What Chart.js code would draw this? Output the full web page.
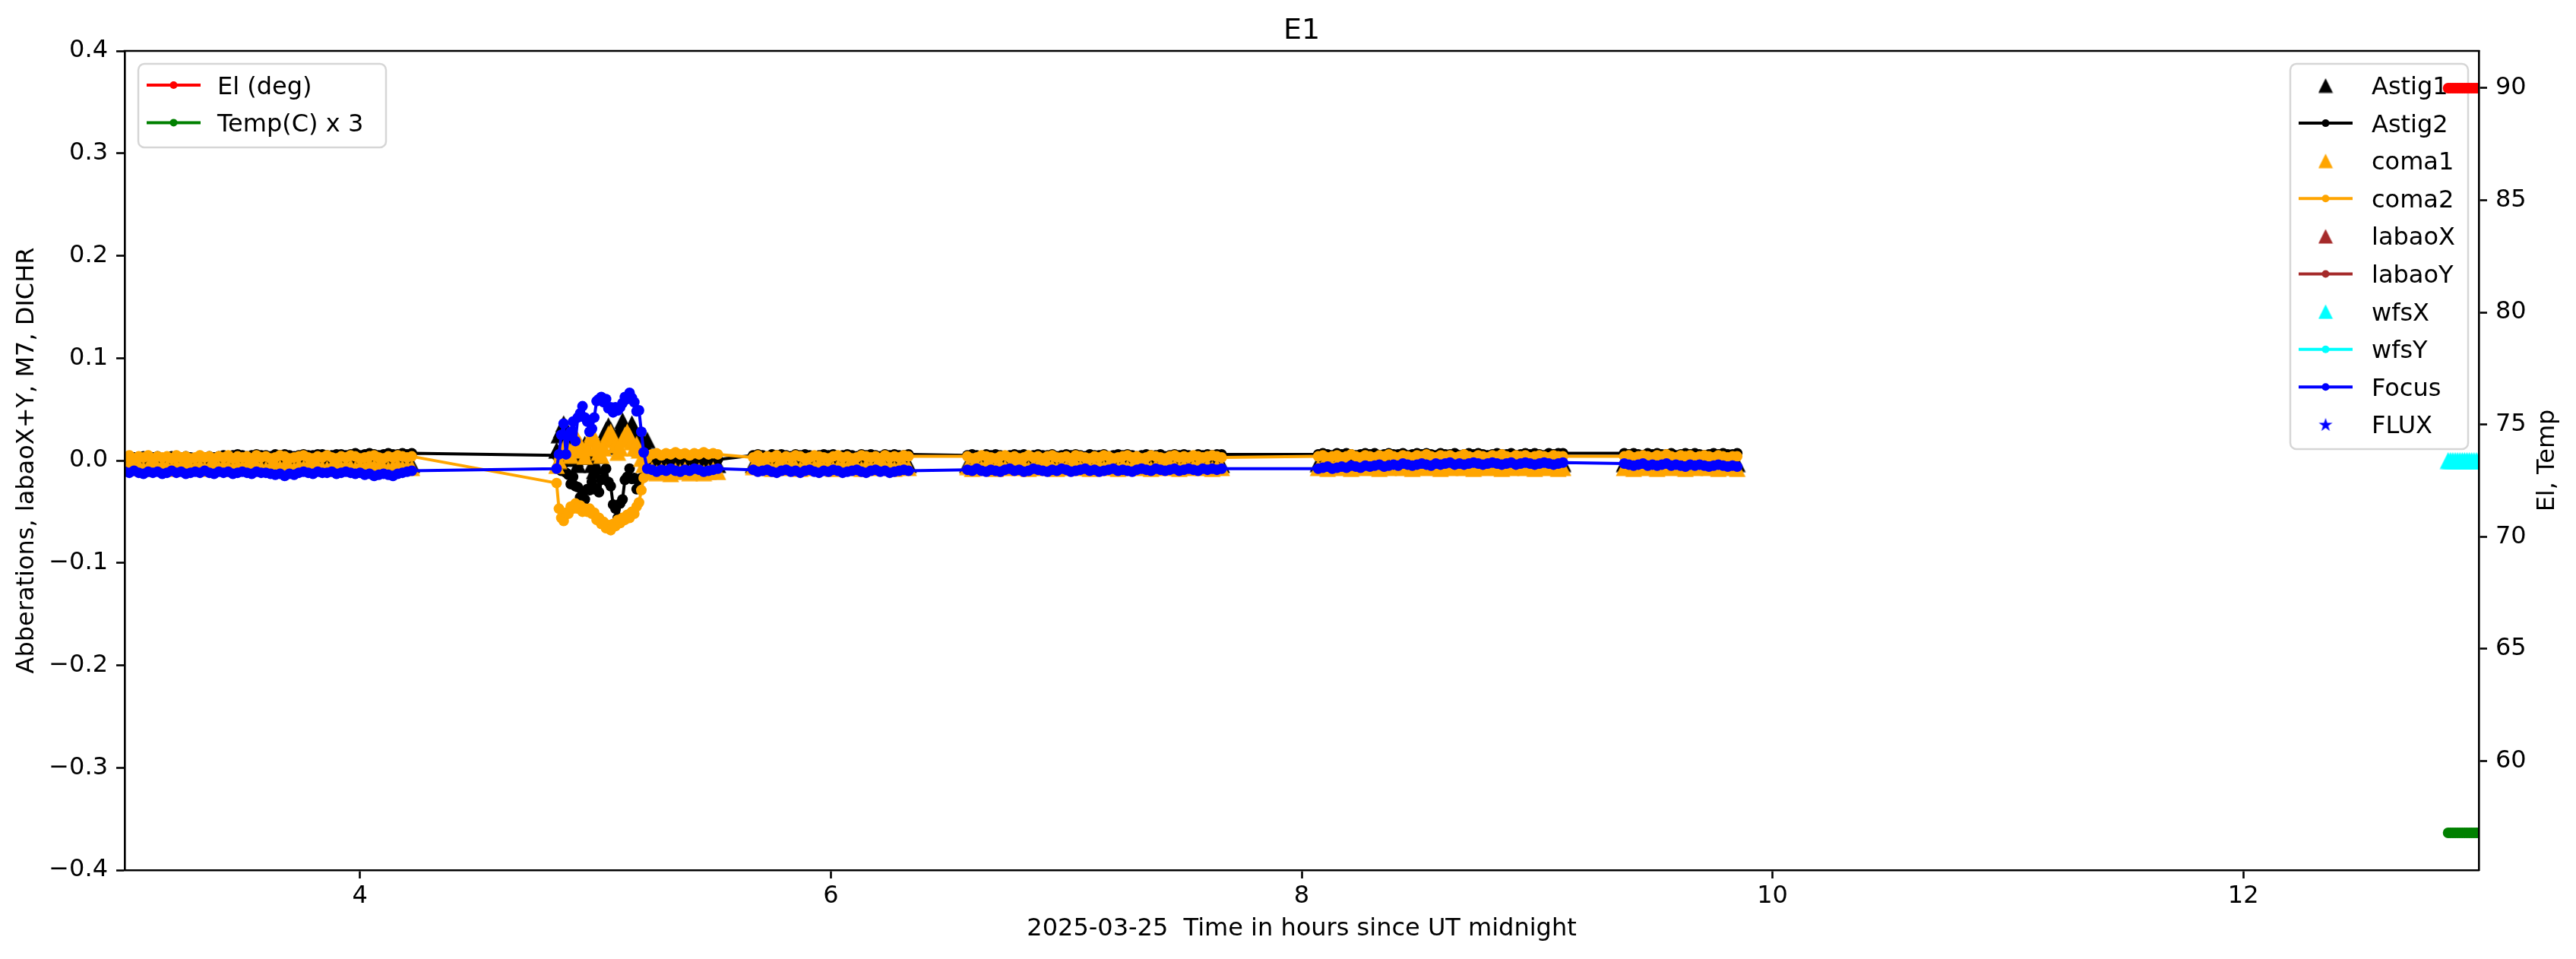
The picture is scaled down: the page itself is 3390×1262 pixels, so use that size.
<!DOCTYPE html>
<html>
<head>
<meta charset="utf-8">
<title>E1</title>
<script src="https://cdn.jsdelivr.net/npm/chart.js@4.4.1/dist/chart.umd.min.js"></script>
<style>
  html, body { margin: 0; padding: 0; background: #fff; }
  canvas { display: block; }
</style>
</head>
<body>
<canvas id="e1Chart" width="3390" height="1262"></canvas>
<script>
// time in hours since UT midnight, one entry per wavefront sample
const hours = [
  // 3.00 - 4.22
  3.00,3.02,3.04,3.06,3.08,3.10,3.12,3.14,3.16,3.18,
  3.20,3.22,3.24,3.26,3.28,3.30,3.32,3.34,3.36,3.38,
  3.40,3.42,3.44,3.46,3.48,3.50,3.52,3.54,3.56,3.58,
  3.60,3.62,3.64,3.66,3.68,3.70,3.72,3.74,3.76,3.78,
  3.80,3.82,3.84,3.86,3.88,3.90,3.92,3.94,3.96,3.98,
  4.00,4.02,4.04,4.06,4.08,4.10,4.12,4.14,4.16,4.18,
  4.20,4.22,
  // 4.835 - 5.205 (the excursion)
  4.835,4.845,4.855,4.865,4.875,4.885,4.895,4.905,4.915,4.925,
  4.935,4.945,4.955,4.965,4.975,4.985,4.995,5.005,5.015,5.025,
  5.035,5.045,5.055,5.065,5.075,5.085,5.095,5.105,5.115,5.125,
  5.135,5.145,5.155,5.165,5.175,5.185,5.195,5.205,
  // 5.22 - 5.52
  5.22,5.24,5.26,5.28,5.30,5.32,5.34,5.36,5.38,5.40,
  5.42,5.44,5.46,5.48,5.50,5.52,
  // 5.67 - 6.33
  5.67,5.69,5.71,5.73,5.75,5.77,5.79,5.81,5.83,5.85,
  5.87,5.89,5.91,5.93,5.95,5.97,5.99,6.01,6.03,6.05,
  6.07,6.09,6.11,6.13,6.15,6.17,6.19,6.21,6.23,6.25,
  6.27,6.29,6.31,6.33,
  // 6.58 - 7.66
  6.58,6.60,6.62,6.64,6.66,6.68,6.70,6.72,6.74,6.76,
  6.78,6.80,6.82,6.84,6.86,6.88,6.90,6.92,6.94,6.96,
  6.98,7.00,7.02,7.04,7.06,7.08,7.10,7.12,7.14,7.16,
  7.18,7.20,7.22,7.24,7.26,7.28,7.30,7.32,7.34,7.36,
  7.38,7.40,7.42,7.44,7.46,7.48,7.50,7.52,7.54,7.56,
  7.58,7.60,7.62,7.64,7.66,
  // 8.07 - 9.11
  8.07,8.09,8.11,8.13,8.15,8.17,8.19,8.21,8.23,8.25,
  8.27,8.29,8.31,8.33,8.35,8.37,8.39,8.41,8.43,8.45,
  8.47,8.49,8.51,8.53,8.55,8.57,8.59,8.61,8.63,8.65,
  8.67,8.69,8.71,8.73,8.75,8.77,8.79,8.81,8.83,8.85,
  8.87,8.89,8.91,8.93,8.95,8.97,8.99,9.01,9.03,9.05,
  9.07,9.09,9.11,
  // 9.37 - 9.85
  9.37,9.39,9.41,9.43,9.45,9.47,9.49,9.51,9.53,9.55,
  9.57,9.59,9.61,9.63,9.65,9.67,9.69,9.71,9.73,9.75,
  9.77,9.79,9.81,9.83,9.85
];

const astig1 = [
  -0.004,-0.003,-0.005,-0.004,-0.003,-0.004,-0.005,-0.004,-0.003,-0.004,
  -0.005,-0.004,-0.003,-0.005,-0.004,-0.003,-0.004,-0.005,-0.004,-0.003,
  -0.004,-0.005,-0.004,-0.003,-0.004,-0.005,-0.003,-0.004,-0.004,-0.005,
  -0.003,-0.004,-0.005,-0.004,-0.003,-0.004,-0.005,-0.004,-0.003,-0.004,
  -0.005,-0.004,-0.003,-0.004,-0.005,-0.004,-0.003,-0.004,-0.005,-0.003,
  -0.004,-0.005,-0.004,-0.003,-0.004,-0.005,-0.004,-0.003,-0.004,-0.005,
  -0.004,-0.004,
  0.010,0.025,0.030,0.036,0.030,0.022,0.015,0.008,0.002,-0.004,
  0.004,0.010,0.016,0.010,0.004,-0.004,-0.010,-0.006,0.005,0.015,
  0.022,0.030,0.034,0.030,0.022,0.014,0.022,0.032,0.039,0.033,
  0.025,0.030,0.036,0.030,0.020,0.012,0.020,0.018,
  0.020,-0.003,-0.004,-0.005,-0.004,-0.003,-0.004,-0.005,-0.004,-0.003,
  -0.004,-0.005,-0.004,-0.003,-0.004,-0.004,
  -0.004,-0.003,-0.005,-0.004,-0.003,-0.004,-0.005,-0.004,-0.003,-0.004,
  -0.005,-0.004,-0.003,-0.005,-0.004,-0.003,-0.004,-0.005,-0.004,-0.003,
  -0.004,-0.005,-0.004,-0.003,-0.004,-0.005,-0.003,-0.004,-0.004,-0.005,
  -0.003,-0.004,-0.005,-0.004,
  -0.004,-0.005,-0.003,-0.004,-0.005,-0.004,-0.003,-0.004,-0.005,-0.004,
  -0.003,-0.005,-0.004,-0.003,-0.004,-0.005,-0.004,-0.003,-0.004,-0.005,
  -0.004,-0.003,-0.005,-0.004,-0.003,-0.004,-0.005,-0.004,-0.003,-0.004,
  -0.005,-0.004,-0.003,-0.005,-0.004,-0.003,-0.004,-0.005,-0.004,-0.003,
  -0.004,-0.005,-0.004,-0.003,-0.005,-0.004,-0.003,-0.004,-0.005,-0.004,
  -0.003,-0.004,-0.005,-0.004,-0.004,
  -0.003,-0.002,-0.004,-0.003,-0.002,-0.003,-0.004,-0.003,-0.002,-0.003,
  -0.004,-0.002,-0.003,-0.004,-0.003,-0.002,-0.003,-0.004,-0.003,-0.002,
  -0.003,-0.004,-0.002,-0.003,-0.004,-0.003,-0.002,-0.003,-0.004,-0.003,
  -0.002,-0.003,-0.004,-0.002,-0.003,-0.004,-0.003,-0.002,-0.003,-0.004,
  -0.003,-0.002,-0.003,-0.004,-0.002,-0.003,-0.004,-0.003,-0.002,-0.003,
  -0.004,-0.003,-0.003,
  -0.003,-0.004,-0.002,-0.003,-0.004,-0.003,-0.002,-0.003,-0.004,-0.003,
  -0.002,-0.004,-0.003,-0.002,-0.003,-0.004,-0.003,-0.002,-0.003,-0.004,
  -0.003,-0.002,-0.003,-0.004,-0.003
];

const astig2 = [
  0.003,0.004,0.003,0.002,0.004,0.003,0.003,0.004,0.002,0.003,
  0.004,0.003,0.003,0.004,0.003,0.002,0.004,0.003,0.004,0.003,
  0.004,0.005,0.004,0.005,0.006,0.005,0.004,0.005,0.006,0.005,
  0.005,0.004,0.006,0.005,0.006,0.005,0.004,0.005,0.006,0.005,
  0.005,0.006,0.006,0.005,0.005,0.006,0.006,0.005,0.006,0.007,
  0.005,0.006,0.007,0.006,0.005,0.006,0.007,0.006,0.006,0.007,
  0.006,0.007,
  0.005,-0.003,-0.010,-0.003,-0.012,-0.014,-0.023,-0.016,-0.025,-0.026,
  -0.036,-0.033,-0.038,-0.028,-0.029,-0.021,-0.028,-0.027,-0.031,-0.019,
  -0.018,-0.008,-0.021,-0.025,-0.043,-0.047,-0.056,-0.042,-0.038,-0.019,
  -0.016,-0.008,-0.018,-0.017,-0.028,-0.019,-0.017,-0.004,
  0.000,0.001,0.000,-0.001,0.000,0.001,0.000,-0.001,0.000,0.001,
  0.000,0.000,-0.001,0.000,0.001,0.001,
  0.005,0.006,0.005,0.004,0.006,0.005,0.006,0.005,0.004,0.006,
  0.005,0.006,0.005,0.004,0.005,0.006,0.005,0.006,0.004,0.005,
  0.006,0.005,0.004,0.006,0.005,0.006,0.005,0.004,0.006,0.005,
  0.006,0.005,0.005,0.006,
  0.005,0.006,0.005,0.004,0.006,0.005,0.006,0.005,0.004,0.005,
  0.006,0.005,0.006,0.004,0.005,0.006,0.005,0.005,0.006,0.004,
  0.005,0.006,0.005,0.006,0.005,0.004,0.006,0.005,0.005,0.006,
  0.004,0.005,0.006,0.005,0.006,0.005,0.004,0.005,0.006,0.005,
  0.005,0.006,0.004,0.005,0.006,0.005,0.006,0.005,0.004,0.006,
  0.005,0.006,0.005,0.006,0.006,
  0.006,0.007,0.006,0.005,0.007,0.006,0.007,0.006,0.005,0.006,
  0.007,0.006,0.007,0.005,0.006,0.007,0.006,0.006,0.007,0.005,
  0.006,0.007,0.006,0.007,0.006,0.005,0.007,0.006,0.006,0.007,
  0.005,0.006,0.007,0.006,0.007,0.006,0.005,0.006,0.007,0.006,
  0.006,0.007,0.005,0.006,0.007,0.006,0.007,0.006,0.005,0.007,
  0.006,0.007,0.007,
  0.007,0.006,0.007,0.006,0.005,0.007,0.006,0.007,0.006,0.006,
  0.007,0.005,0.006,0.007,0.006,0.007,0.006,0.005,0.006,0.007,
  0.006,0.007,0.006,0.006,0.007
];

const coma1 = [
  -0.006,-0.004,-0.007,-0.005,-0.008,-0.006,-0.004,-0.007,-0.005,-0.006,
  -0.008,-0.005,-0.006,-0.004,-0.007,-0.006,-0.005,-0.008,-0.006,-0.004,
  -0.007,-0.005,-0.006,-0.008,-0.005,-0.007,-0.004,-0.006,-0.005,-0.007,
  -0.008,-0.006,-0.004,-0.007,-0.005,-0.006,-0.008,-0.005,-0.007,-0.004,
  -0.006,-0.005,-0.007,-0.008,-0.006,-0.004,-0.007,-0.005,-0.006,-0.008,
  -0.005,-0.007,-0.004,-0.006,-0.005,-0.007,-0.008,-0.006,-0.005,-0.007,
  -0.006,-0.007,
  -0.005,0.000,0.008,0.012,0.015,0.010,0.005,0.012,0.018,0.020,
  0.016,0.010,0.004,0.012,0.020,0.026,0.022,0.014,0.008,0.005,
  0.012,0.020,0.026,0.028,0.022,0.015,0.008,0.012,0.020,0.025,
  0.028,0.024,0.018,0.012,0.016,0.010,0.002,-0.004,
  -0.011,-0.009,-0.012,-0.010,-0.011,-0.013,-0.010,-0.011,-0.009,-0.012,
  -0.011,-0.010,-0.012,-0.011,-0.009,-0.011,
  -0.006,-0.004,-0.007,-0.005,-0.008,-0.006,-0.005,-0.007,-0.004,-0.006,
  -0.008,-0.005,-0.007,-0.006,-0.004,-0.007,-0.005,-0.008,-0.006,-0.005,
  -0.007,-0.004,-0.006,-0.008,-0.005,-0.007,-0.006,-0.004,-0.007,-0.005,
  -0.008,-0.006,-0.005,-0.007,
  -0.006,-0.008,-0.005,-0.007,-0.004,-0.006,-0.008,-0.005,-0.007,-0.006,
  -0.004,-0.007,-0.005,-0.008,-0.006,-0.005,-0.007,-0.004,-0.006,-0.008,
  -0.005,-0.007,-0.006,-0.004,-0.007,-0.005,-0.008,-0.006,-0.005,-0.007,
  -0.004,-0.006,-0.008,-0.005,-0.007,-0.006,-0.004,-0.007,-0.005,-0.008,
  -0.006,-0.005,-0.007,-0.004,-0.006,-0.008,-0.005,-0.007,-0.006,-0.004,
  -0.007,-0.005,-0.008,-0.006,-0.007,
  -0.007,-0.005,-0.008,-0.006,-0.004,-0.007,-0.005,-0.008,-0.006,-0.005,
  -0.007,-0.004,-0.006,-0.008,-0.005,-0.007,-0.006,-0.004,-0.007,-0.005,
  -0.008,-0.006,-0.005,-0.007,-0.004,-0.006,-0.008,-0.005,-0.007,-0.006,
  -0.004,-0.007,-0.005,-0.008,-0.006,-0.005,-0.007,-0.004,-0.006,-0.008,
  -0.005,-0.007,-0.006,-0.004,-0.007,-0.005,-0.008,-0.006,-0.005,-0.007,
  -0.006,-0.008,-0.007,
  -0.007,-0.005,-0.008,-0.006,-0.004,-0.007,-0.005,-0.008,-0.006,-0.005,
  -0.007,-0.004,-0.006,-0.008,-0.005,-0.007,-0.006,-0.004,-0.007,-0.005,
  -0.008,-0.006,-0.005,-0.007,-0.008
];

const coma2 = [
  0.003,0.005,0.002,0.004,0.003,0.005,0.002,0.004,0.003,0.004,
  0.002,0.005,0.003,0.004,0.002,0.003,0.005,0.003,0.004,0.002,
  0.004,0.003,0.005,0.002,0.004,0.003,0.004,0.002,0.005,0.003,
  0.004,0.002,0.003,0.005,0.004,0.002,0.003,0.004,0.005,0.003,
  0.002,0.004,0.003,0.005,0.003,0.002,0.004,0.003,0.005,0.004,
  0.002,0.003,0.004,0.005,0.003,0.002,0.004,0.003,0.005,0.004,
  0.003,0.004,
  -0.022,-0.047,-0.056,-0.059,-0.051,-0.052,-0.045,-0.047,-0.042,-0.047,
  -0.044,-0.050,-0.047,-0.050,-0.047,-0.052,-0.051,-0.058,-0.056,-0.062,
  -0.060,-0.066,-0.063,-0.068,-0.062,-0.064,-0.058,-0.061,-0.056,-0.058,
  -0.053,-0.056,-0.050,-0.052,-0.045,-0.041,-0.029,-0.017,
  0.002,0.006,0.007,0.005,0.007,0.006,0.008,0.006,0.007,0.005,
  0.007,0.006,0.008,0.006,0.007,0.006,
  0.003,0.005,0.002,0.004,0.003,0.005,0.002,0.004,0.003,0.005,
  0.004,0.002,0.003,0.005,0.004,0.003,0.002,0.004,0.005,0.003,
  0.004,0.002,0.003,0.005,0.004,0.003,0.004,0.002,0.005,0.003,
  0.004,0.003,0.005,0.004,
  0.004,0.002,0.003,0.005,0.004,0.003,0.002,0.004,0.005,0.003,
  0.004,0.002,0.003,0.005,0.003,0.004,0.002,0.004,0.005,0.003,
  0.003,0.004,0.002,0.005,0.004,0.003,0.002,0.004,0.003,0.005,
  0.004,0.002,0.003,0.004,0.005,0.003,0.004,0.002,0.003,0.005,
  0.004,0.003,0.002,0.004,0.005,0.003,0.004,0.003,0.005,0.004,
  0.003,0.004,0.005,0.004,0.003,
  0.004,0.005,0.003,0.004,0.005,0.003,0.004,0.006,0.004,0.003,
  0.005,0.004,0.003,0.005,0.004,0.006,0.004,0.003,0.005,0.004,
  0.003,0.005,0.004,0.006,0.004,0.003,0.005,0.004,0.005,0.003,
  0.004,0.006,0.004,0.003,0.005,0.004,0.003,0.005,0.004,0.006,
  0.004,0.003,0.005,0.004,0.005,0.003,0.004,0.005,0.004,0.003,
  0.005,0.004,0.004,
  0.004,0.005,0.003,0.004,0.005,0.004,0.003,0.005,0.004,0.006,
  0.004,0.003,0.005,0.004,0.005,0.003,0.004,0.005,0.004,0.003,
  0.005,0.004,0.003,0.004,0.004
];

const focus = [
  -0.011,-0.012,-0.010,-0.012,-0.013,-0.011,-0.012,-0.011,-0.013,-0.012,
  -0.010,-0.012,-0.011,-0.013,-0.012,-0.011,-0.012,-0.010,-0.012,-0.013,
  -0.011,-0.012,-0.011,-0.013,-0.012,-0.011,-0.012,-0.013,-0.011,-0.012,
  -0.012,-0.013,-0.014,-0.013,-0.015,-0.013,-0.014,-0.012,-0.011,-0.012,
  -0.013,-0.011,-0.012,-0.012,-0.011,-0.013,-0.012,-0.011,-0.012,-0.013,
  -0.012,-0.014,-0.013,-0.015,-0.014,-0.013,-0.014,-0.015,-0.013,-0.012,
  -0.011,-0.010,
  -0.008,0.006,0.025,0.036,0.006,0.024,0.028,0.038,0.019,0.042,
  0.046,0.053,0.042,0.038,0.028,0.031,0.042,0.058,0.060,0.062,
  0.057,0.060,0.051,0.052,0.047,0.052,0.049,0.052,0.056,0.062,
  0.060,0.066,0.061,0.057,0.048,0.049,0.028,0.008,
  -0.008,-0.009,-0.011,-0.009,-0.010,-0.008,-0.010,-0.011,-0.009,-0.010,
  -0.008,-0.009,-0.011,-0.010,-0.009,-0.008,
  -0.009,-0.011,-0.010,-0.009,-0.011,-0.012,-0.010,-0.009,-0.011,-0.010,
  -0.012,-0.010,-0.009,-0.011,-0.012,-0.010,-0.011,-0.009,-0.010,-0.012,
  -0.011,-0.010,-0.009,-0.011,-0.012,-0.010,-0.009,-0.011,-0.010,-0.012,
  -0.011,-0.010,-0.009,-0.010,
  -0.009,-0.010,-0.008,-0.010,-0.011,-0.009,-0.010,-0.011,-0.009,-0.008,
  -0.010,-0.009,-0.011,-0.010,-0.008,-0.009,-0.010,-0.011,-0.009,-0.010,
  -0.008,-0.009,-0.011,-0.010,-0.009,-0.008,-0.010,-0.009,-0.011,-0.010,
  -0.009,-0.008,-0.010,-0.009,-0.010,-0.011,-0.009,-0.008,-0.009,-0.010,
  -0.008,-0.009,-0.010,-0.009,-0.008,-0.010,-0.009,-0.008,-0.009,-0.010,
  -0.008,-0.009,-0.008,-0.009,-0.008,
  -0.008,-0.007,-0.006,-0.008,-0.007,-0.006,-0.007,-0.005,-0.006,-0.007,
  -0.005,-0.006,-0.005,-0.004,-0.006,-0.005,-0.004,-0.005,-0.003,-0.004,
  -0.005,-0.004,-0.003,-0.004,-0.005,-0.003,-0.004,-0.003,-0.002,-0.004,
  -0.003,-0.004,-0.003,-0.002,-0.003,-0.004,-0.003,-0.002,-0.003,-0.004,
  -0.003,-0.002,-0.004,-0.003,-0.002,-0.003,-0.004,-0.003,-0.002,-0.003,
  -0.004,-0.003,-0.002,
  -0.003,-0.004,-0.005,-0.004,-0.003,-0.005,-0.004,-0.005,-0.004,-0.003,
  -0.005,-0.004,-0.005,-0.006,-0.004,-0.005,-0.004,-0.005,-0.006,-0.005,
  -0.004,-0.005,-0.006,-0.005,-0.006
];

// last samples of the night, right-hand axis (El, Temp) and wfsX
const edgeHours = [12.87,12.88,12.89,12.90,12.91,12.92,12.93,12.94,12.95,12.96,12.97,12.98,12.99,13.00,13.01];
const elDeg = [90.0,90.0,90.0,90.0,90.0,90.0,90.0,90.0,90.0,90.0,90.0,90.0,90.0,90.0,90.0];
const tempX3 = [56.8,56.8,56.8,56.8,56.8,56.8,56.8,56.8,56.8,56.8,56.8,56.8,56.8,56.8,56.8];
const wfsX = [0.0,0.0,0.0,0.0,0.0,0.0,0.0,0.0,0.0,0.0,0.0,0.0,0.0,0.0,0.0];

const hourTicks = [4, 6, 8, 10, 12];
const aberrTicks = [-0.4, -0.3, -0.2, -0.1, 0.0, 0.1, 0.2, 0.3, 0.4];
const elTicks = [60, 65, 70, 75, 80, 85, 90];

[astig1, astig2, coma1, coma2, focus].forEach(a => {
  if (a.length !== hours.length) throw new Error("series length " + a.length + " != " + hours.length);
});

// ---------------------------------------------------------

const FONT = '"DejaVu Sans"';
Chart.defaults.font.family = FONT;
Chart.defaults.font.size = 32;
Chart.defaults.color = "#000";

// filled triangle like matplotlib '^' (as wide as it is tall)
function triangleMarker(color, size) {
  const c = document.createElement("canvas");
  c.width = size + 1;
  c.height = size + 1;
  const g = c.getContext("2d");
  const h = (size + 1) / 2;
  g.fillStyle = color;
  g.beginPath();
  g.moveTo(h, 0.5);
  g.lineTo(size + 0.5, size + 0.5);
  g.lineTo(0.5, size + 0.5);
  g.closePath();
  g.fill();
  return c;
}

function starMarker(color) {
  const c = document.createElement("canvas");
  c.width = 20;
  c.height = 20;
  const g = c.getContext("2d");
  g.fillStyle = color;
  g.beginPath();
  for (let k = 0; k < 10; k++) {
    const a = -Math.PI / 2 + (k * Math.PI) / 5;
    const r = k % 2 ? 3.6 : 9.5;
    g.lineTo(10 + r * Math.cos(a), 10.5 + r * Math.sin(a));
  }
  g.closePath();
  g.fill();
  return c;
}

function pts(xs, ys) {
  return xs.map((x, i) => ({ x: x, y: ys[i] }));
}

function markerSet(label, color, data, order, marker) {
  return {
    label, data, order,
    yAxisID: "y",
    showLine: false,
    pointStyle: marker || triangleMarker(color, 22),
    legendMarker: marker || triangleMarker(color, 19),
    pointRadius: 11,
    borderColor: color,
    backgroundColor: color,
    clip: 0,
  };
}

function lineSet(label, color, data, order, axis) {
  return {
    label, data, order,
    yAxisID: axis || "y",
    showLine: true,
    borderColor: color,
    backgroundColor: color,
    borderWidth: 4,
    borderJoinStyle: "round",
    pointStyle: "circle",
    pointRadius: 7,
    pointBorderWidth: 0,
    pointBackgroundColor: color,
    clip: 0,
  };
}

const datasets = [
  markerSet("Astig1", "#000000", pts(hours, astig1), 14),
  lineSet("Astig2", "#000000", pts(hours, astig2), 13),
  markerSet("coma1", "#ffa500", pts(hours, coma1), 12),
  lineSet("coma2", "#ffa500", pts(hours, coma2), 11),
  markerSet("labaoX", "#a52a2a", [], 10),
  lineSet("labaoY", "#a52a2a", [], 9),
  markerSet("wfsX", "#00ffff", pts(edgeHours, wfsX), 8),
  lineSet("wfsY", "#00ffff", [], 7),
  lineSet("Focus", "#0000ff", pts(hours, focus), 6),
  markerSet("FLUX", "#0000ff", [], 5, starMarker("#0000ff")),
  lineSet("El (deg)", "#ff0000", pts(edgeHours, elDeg), 2, "y2"),
  lineSet("Temp(C) x 3", "#008000", pts(edgeHours, tempX3), 1, "y2"),
];

// ---------------------------------------------------------
// legends, top spine, title and axis labels drawn like matplotlib

function roundBox(ctx, x, y, w, h, r) {
  ctx.beginPath();
  ctx.moveTo(x + r, y);
  ctx.arcTo(x + w, y, x + w, y + h, r);
  ctx.arcTo(x + w, y + h, x, y + h, r);
  ctx.arcTo(x, y + h, x, y, r);
  ctx.arcTo(x, y, x + w, y, r);
  ctx.closePath();
}

function drawLegend(ctx, sets, box) {
  ctx.save();
  roundBox(ctx, box.x, box.y, box.w, box.h, 8);
  ctx.fillStyle = "rgba(255,255,255,0.8)";
  ctx.fill();
  ctx.strokeStyle = "#d6d6d6";
  ctx.lineWidth = 2.5;
  ctx.stroke();
  ctx.font = "32px " + FONT;
  ctx.textAlign = "left";
  ctx.textBaseline = "alphabetic";
  sets.forEach((ds, i) => {
    const cy = box.firstY + i * box.step;
    const mx = box.markX;
    if (ds.showLine) {
      ctx.strokeStyle = ds.borderColor;
      ctx.lineWidth = 4;
      ctx.beginPath();
      ctx.moveTo(mx - 35.5, cy);
      ctx.lineTo(mx + 35.5, cy);
      ctx.stroke();
      ctx.fillStyle = ds.borderColor;
      ctx.beginPath();
      ctx.arc(mx, cy, 5, 0, Math.PI * 2);
      ctx.fill();
    } else {
      const m = ds.legendMarker;
      ctx.drawImage(m, mx - m.width / 2, cy - m.height / 2);
    }
    ctx.fillStyle = "#000";
    ctx.fillText(ds.label, box.textX, cy + 11.5);
  });
  ctx.restore();
}

const rightLegend = { x: 3014, y: 84, w: 234, h: 507, firstY: 112.5, step: 49.6, markX: 3060.5, textX: 3121 };
const leftLegend = { x: 182, y: 84, w: 326, h: 110, firstY: 112, step: 49.4, markX: 228.5, textX: 286 };

const decorations = {
  id: "decorations",
  beforeDraw(chart) {
    const ctx = chart.ctx;
    ctx.save();
    ctx.fillStyle = "#fff";
    ctx.fillRect(0, 0, chart.width, chart.height);
    ctx.restore();
    chart.$legendDone = false;
  },
  beforeDatasetDraw(chart, args) {
    // twin-axis lines (El, Temp) go over the aberration legend
    const ds = chart.data.datasets[args.index];
    if (ds.yAxisID === "y2" && !chart.$legendDone) {
      drawLegend(chart.ctx, chart.data.datasets.filter(d => d.yAxisID === "y"), rightLegend);
      chart.$legendDone = true;
    }
  },
  afterDraw(chart) {
    const ctx = chart.ctx;
    const a = chart.chartArea;
    ctx.save();
    ctx.strokeStyle = "#000";
    ctx.lineWidth = 2.6;
    ctx.beginPath();
    ctx.moveTo(a.left - 1.3, a.top);
    ctx.lineTo(a.right + 1.3, a.top);
    ctx.stroke();

    ctx.fillStyle = "#000";
    ctx.textAlign = "center";
    ctx.textBaseline = "alphabetic";
    ctx.font = "38px " + FONT;
    ctx.fillText("E1", (a.left + a.right) / 2, 51);

    ctx.font = "32px " + FONT;
    ctx.fillText("2025-03-25  Time in hours since UT midnight", (a.left + a.right) / 2, 1231);

    const midY = (a.top + a.bottom) / 2;
    ctx.save();
    ctx.translate(44, midY);
    ctx.rotate(-Math.PI / 2);
    ctx.fillText("Abberations, labaoX+Y, M7, DICHR", 0, 0);
    ctx.restore();

    ctx.save();
    ctx.translate(3361, midY);
    ctx.rotate(-Math.PI / 2);
    ctx.fillText("El, Temp", 0, 0);
    ctx.restore();
    ctx.restore();

    drawLegend(ctx, chart.data.datasets.filter(d => d.yAxisID === "y2"), leftLegend);
  },
};

function axisGrid() {
  return { display: true, drawOnChartArea: false, drawTicks: true, tickLength: 11, tickWidth: 2.6, tickColor: "#000", color: "#000" };
}
const axisBorder = { display: true, color: "#000", width: 2.6, z: 1 };

const ctxE1 = document.getElementById("e1Chart").getContext("2d");

const e1Chart = new Chart(ctxE1, {
  type: "line",
  data: { datasets: datasets },
  options: {
    responsive: false,
    devicePixelRatio: 1,
    animation: false,
    events: [],
    layout: { padding: { top: 67, left: 0, right: 0, bottom: 0 } },
    plugins: {
      legend: { display: false },
      title: { display: false },
      tooltip: { enabled: false },
    },
    scales: {
      x: {
        type: "linear",
        position: "bottom",
        min: 3,
        max: 13,
        grid: axisGrid(),
        border: axisBorder,
        ticks: { padding: 4, autoSkip: false, maxRotation: 0, callback: v => String(v) },
        afterBuildTicks: s => { s.ticks = hourTicks.map(v => ({ value: v })); },
        afterFit: s => { s.height = 117; },
      },
      y: {
        type: "linear",
        position: "left",
        min: -0.4,
        max: 0.4,
        grid: axisGrid(),
        border: axisBorder,
        ticks: { padding: 11, callback: v => v.toFixed(1).replace("-", "\u2212") },
        afterBuildTicks: s => { s.ticks = aberrTicks.map(v => ({ value: v })); },
        afterFit: s => { s.width = 164; },
      },
      y2: {
        type: "linear",
        position: "right",
        min: 55.14,
        max: 91.66,
        grid: axisGrid(),
        border: axisBorder,
        ticks: { padding: 11, callback: v => String(v) },
        afterBuildTicks: s => { s.ticks = elTicks.map(v => ({ value: v })); },
        afterFit: s => { s.width = 128; },
      },
    },
  },
  plugins: [decorations],
});
</script>
</body>
</html>
